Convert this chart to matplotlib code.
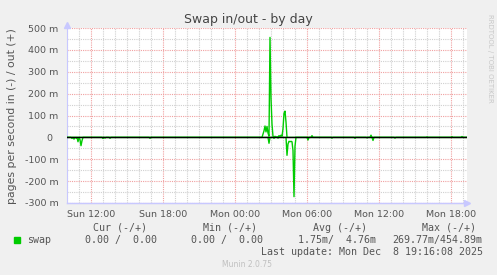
import pandas as pd
import matplotlib
matplotlib.use('Agg')
import matplotlib.pyplot as plt
import matplotlib.dates as mdates
from matplotlib.ticker import MultipleLocator, FuncFormatter

# swap out (+), milli pages/s; samples not listed are 0
out_times = ['12-08 02:20', '12-08 02:25', '12-08 02:30', '12-08 02:35', '12-08 02:40',
             '12-08 02:45', '12-08 02:50', '12-08 02:55', '12-08 03:00', '12-08 03:05',
             '12-08 03:10', '12-08 03:20', '12-08 03:30', '12-08 03:40', '12-08 03:45',
             '12-08 03:50', '12-08 03:55', '12-08 04:00', '12-08 04:05', '12-08 04:10',
             '12-08 04:15', '12-08 06:25', '12-08 11:20', '12-08 16:00', '12-08 18:05',
             '12-08 18:55']
out_vals = [15, 30, 52, 25, 50, 20, 5, 457, 180, 60,
            5, 5, 3, 8, 4, 10, 5, 40, 110, 120,
            70, 8, 10, 2, 3, 4]

# swap in (-), milli pages/s; drawn below zero
in_times = ['12-07 10:25', '12-07 10:35', '12-07 10:45', '12-07 10:55', '12-07 11:05',
            '12-07 11:10', '12-07 11:15', '12-07 13:00', '12-07 13:10', '12-07 13:35',
            '12-07 16:55', '12-08 02:50', '12-08 03:15', '12-08 03:35', '12-08 04:20',
            '12-08 04:25', '12-08 04:30', '12-08 04:35', '12-08 04:40', '12-08 04:45',
            '12-08 04:50', '12-08 04:55', '12-08 05:00', '12-08 06:05', '12-08 08:05',
            '12-08 10:00', '12-08 11:00', '12-08 11:30', '12-08 13:20']
in_vals = [5, 8, 3, 20, 10, 38, 15, 5, 3, 4,
           4, 27, 4, 3, 82, 30, 18, 20, 18, 20,
           60, 271, 40, 12, 3, 4, 2, 14, 3]

legend_cols = ['Cur (-/+)', 'Min (-/+)', 'Avg (-/+)', 'Max (-/+)']
legend_vals = ['0.00 /  0.00', '0.00 /  0.00', '1.75m/  4.76m', '269.77m/454.89m']

start = pd.Timestamp('2025-12-07 10:00')
end = start + pd.Timedelta(minutes=5 * 400)
idx = pd.date_range(start, end, freq='5min')
swap_out = pd.Series(0.0, index=idx)
swap_out[pd.to_datetime(['2025-' + t for t in out_times])] = out_vals
swap_in = pd.Series(0.0, index=idx)
swap_in[pd.to_datetime(['2025-' + t for t in in_times])] = in_vals

W, H = 497, 275
fig = plt.figure(figsize=(W / 100, H / 100), dpi=100, facecolor='#F0F0F0')
ax = fig.add_axes([67 / W, 1 - 203 / H, 400 / W, 175 / H])
ax.set_facecolor('white')

green = '#00CC00'
ax.plot(swap_in.index, -swap_in.values, color=green, lw=1, zorder=3)
ax.plot(swap_out.index, swap_out.values, color=green, lw=1, zorder=3)
ax.axhline(0, color='black', lw=1, zorder=4)

ax.set_xlim(start, end)
ax.set_ylim(-300, 500)

ax.xaxis.set_major_locator(mdates.HourLocator(byhour=[0, 6, 12, 18]))
ax.xaxis.set_minor_locator(mdates.HourLocator())
ax.xaxis.set_major_formatter(mdates.DateFormatter('%a %H:%M'))
ax.yaxis.set_major_locator(MultipleLocator(100))
ax.yaxis.set_minor_locator(MultipleLocator(50))
ax.yaxis.set_major_formatter(FuncFormatter(lambda v, p: '%d m' % v if v else '0  '))

dots = (0, (1, 1))
ax.grid(which='minor', color='#D0D0D0', ls=dots, lw=0.8)
ax.grid(which='major', color='#F0A0A0', ls=dots, lw=0.8)
ax.set_axisbelow(True)

for s in ['top', 'right']:
    ax.spines[s].set_visible(False)
for s in ['left', 'bottom']:
    ax.spines[s].set_color('#C8C8FF')
ax.tick_params(which='both', length=0, labelsize=6.8, labelcolor='#555555')
ax.tick_params(axis='y', pad=6)
ax.tick_params(axis='x', pad=5)

# axis arrows
ax.plot([0], [1.02], marker='^', ms=4, color='#C8C8FF', transform=ax.transAxes, clip_on=False)
ax.plot([1.0], [0], marker='>', ms=4, color='#C8C8FF', transform=ax.transAxes, clip_on=False)
ax.plot([0, 1.0], [0, 0], color='#C8C8FF', lw=1, transform=ax.transAxes, clip_on=False)


def px(x, y):
    return x / W, 1 - y / H


fig.text(*px(248.5, 19), 'Swap in/out - by day', ha='center', va='center',
         fontsize=9, color='#444444')
fig.text(*px(12, 116), 'pages per second in (-) / out (+)', rotation=90,
         ha='center', va='center', fontsize=7.8, color='#555555')
fig.text(*px(490, 58), 'RRDTOOL / TOBI OETIKER', rotation=270, ha='center',
         va='center', fontsize=5, color='#C8C8C8')

mono = dict(family='DejaVu Sans Mono', fontsize=7.2, color='#555555', va='center')
col_hdr_right = [146.7, 256.7, 366.7, 476]
col_val_right = [156.7, 263.3, 376, 482.7]
for name, x in zip(legend_cols, col_hdr_right):
    fig.text(*px(x, 227.7), name, ha='right', **mono)
for val, x in zip(legend_vals, col_val_right):
    fig.text(*px(x, 240), val, ha='right', **mono)
fig.patches.append(plt.Rectangle(px(14, 243), 6 / W, 6 / H, color=green,
                                 transform=fig.transFigure, figure=fig))
fig.text(*px(26.7, 240), 'swap', ha='left', **mono)
fig.text(*px(482.7, 251.7), 'Last update: Mon Dec  8 19:16:08 2025', ha='right', **mono)
fig.text(*px(247.5, 264.3), 'Munin 2.0.75', ha='center', va='center',
         fontsize=5.5, color='#C0C0C0')

fig.savefig('out.png', dpi=100, facecolor=fig.get_facecolor())
